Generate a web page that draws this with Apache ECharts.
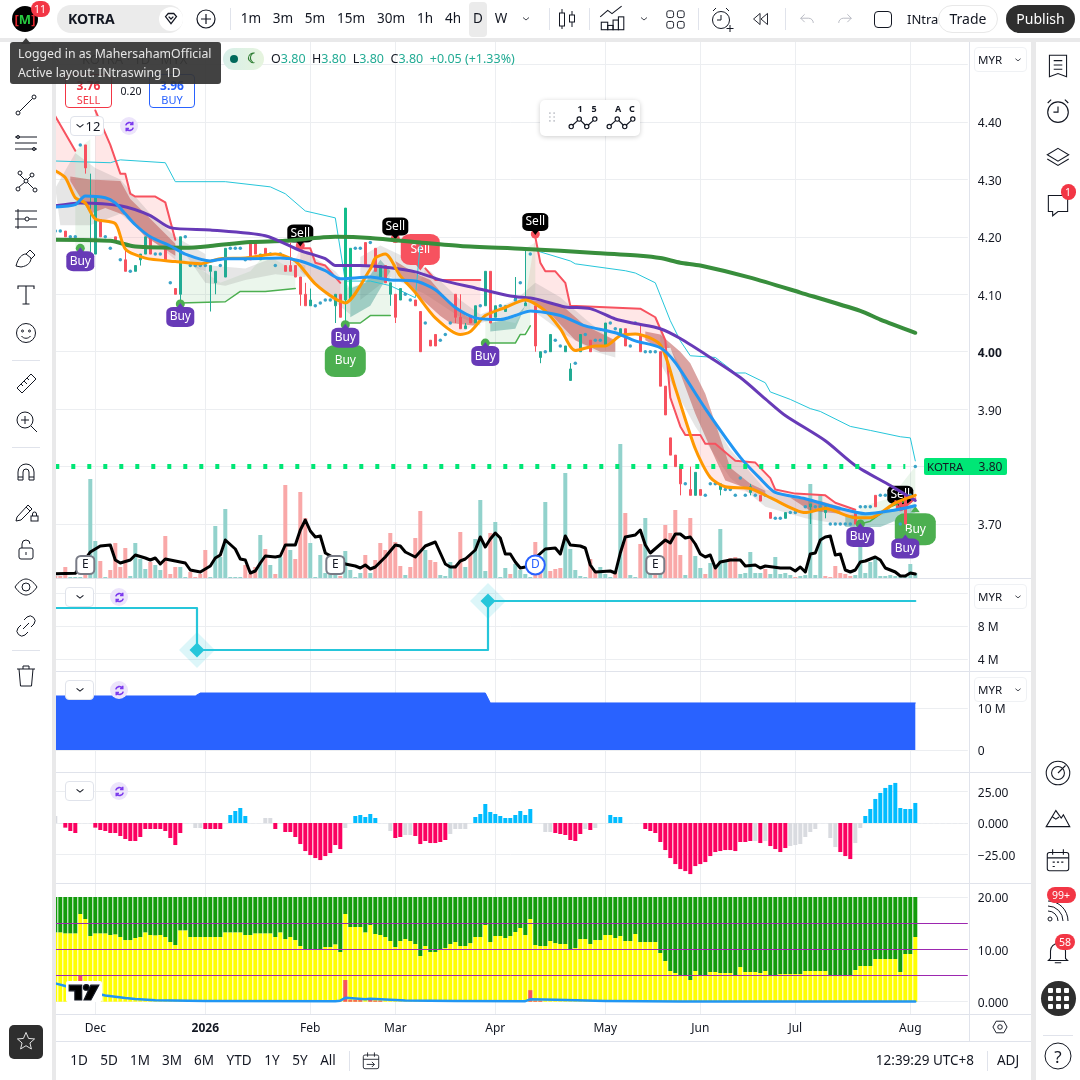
<!DOCTYPE html>
<html><head><meta charset="utf-8">
<script src="https://cdn.jsdelivr.net/npm/echarts@6/dist/echarts.min.js"></script>
<style>
html,body{margin:0;padding:0;background:#fff;width:1080px;height:1080px;overflow:hidden;font-family:"Noto Sans",sans-serif;color:#131722}
#chart{position:absolute;left:0;top:0;width:1080px;height:1080px}
#ui{position:absolute;left:0;top:0;width:1080px;height:1080px;pointer-events:none}
#ui div,#ui span{position:absolute;white-space:nowrap}
#ui svg{position:absolute;overflow:visible}
</style></head><body>
<div id="chart"></div><div id="ui"></div>
<script>
/* ---------- time axis ---------- */
const barCount = 183;
const tickIndex  = [8, 30, 51, 68, 88, 110, 129, 148, 171];
const tickLabels = ['Dec','2026','Feb','Mar','Apr','May','Jun','Jul','Aug'];

/* ---------- candles: [bar, open, close, low, high] ---------- */
const candles = [[2,4.21,4.20,4.20,4.21],[6,4.36,4.32,4.31,4.36],[7,4.16,4.17,4.16,4.31],[8,4.17,4.27,4.17,4.27],[9,4.23,4.20,4.20,4.23],[12,4.20,4.19,4.19,4.20],[14,4.16,4.14,4.14,4.18],[16,4.14,4.15,4.14,4.15],[17,4.16,4.17,4.15,4.17],[18,4.17,4.20,4.17,4.20],[19,4.20,4.17,4.17,4.20],[22,4.18,4.16,4.16,4.18],[24,4.11,4.10,4.10,4.11],[25,4.10,4.20,4.06,4.20],[31,4.14,4.15,4.07,4.15],[32,4.12,4.14,4.10,4.14],[34,4.13,4.18,4.13,4.18],[39,4.19,4.16,4.16,4.19],[40,4.19,4.17,4.17,4.19],[41,4.16,4.17,4.16,4.17],[42,4.18,4.17,4.17,4.18],[46,4.15,4.14,4.14,4.15],[47,4.15,4.14,4.14,4.19],[48,4.15,4.13,4.13,4.15],[49,4.13,4.10,4.08,4.13],[50,4.10,4.08,4.08,4.12],[51,4.08,4.09,4.08,4.11],[56,4.08,4.10,4.05,4.10],[57,4.10,4.06,4.06,4.10],[58,4.09,4.25,4.05,4.25],[59,4.09,4.18,4.09,4.18],[62,4.19,4.15,4.15,4.19],[64,4.18,4.14,4.14,4.18],[65,4.13,4.15,4.13,4.15],[66,4.15,4.12,4.12,4.15],[67,4.10,4.12,4.08,4.12],[68,4.10,4.06,4.05,4.10],[69,4.09,4.11,4.09,4.11],[72,4.09,4.08,4.08,4.09],[73,4.07,4.00,4.00,4.07],[75,4.02,4.01,4.01,4.02],[76,4.03,4.01,4.01,4.03],[80,4.10,4.06,4.05,4.10],[81,4.06,4.04,4.04,4.10],[82,4.04,4.045,4.04,4.05],[83,4.06,4.05,4.05,4.06],[84,4.05,4.08,4.05,4.08],[86,4.08,4.14,4.08,4.14],[87,4.14,4.05,4.05,4.14],[88,4.06,4.08,4.06,4.08],[90,4.07,4.08,4.07,4.08],[92,4.09,4.095,4.09,4.13],[94,4.08,4.085,4.08,4.18],[96,4.08,4.01,4.00,4.08],[97,3.99,4.00,3.98,4.00],[99,4.00,4.03,4.00,4.03],[102,4.00,4.01,4.00,4.01],[103,3.95,3.97,3.95,3.98],[105,4.00,4.03,4.00,4.03],[107,4.02,4.00,4.00,4.02],[110,4.01,4.05,4.01,4.05],[113,4.03,4.04,4.03,4.04],[114,4.04,4.01,4.01,4.04],[117,4.03,4.00,4.00,4.05],[121,4.00,3.94,3.94,4.00],[122,3.94,3.89,3.89,3.94],[123,3.85,3.82,3.82,3.85],[124,3.82,3.80,3.80,3.82],[125,3.80,3.77,3.75,3.80],[127,3.76,3.75,3.75,3.80],[128,3.75,3.79,3.75,3.79],[129,3.76,3.75,3.75,3.76],[133,3.76,3.77,3.75,3.77],[139,3.755,3.765,3.75,3.77],[141,3.75,3.74,3.74,3.75],[143,3.72,3.71,3.71,3.72],[146,3.71,3.72,3.71,3.72],[151,3.73,3.735,3.70,3.735],[154,3.72,3.73,3.71,3.73],[160,3.72,3.70,3.70,3.72],[164,3.75,3.73,3.73,3.75],[169,3.74,3.73,3.73,3.74],[170,3.75,3.70,3.70,3.75]];
const brightCandles = [58,59];

/* ---------- small dots: [bar, price] ---------- */
const dots = [[0,4.21],[1,4.21],[3,4.20],[4,4.20],[5,4.36],[10,4.20],[11,4.18],[13,4.16],[15,4.14],[20,4.17],[21,4.17],[23,4.12],[26,4.20],[27,4.15],[28,4.15],[29,4.15],[30,4.15],[33,4.15],[35,4.18],[36,4.18],[37,4.18],[38,4.16],[43,4.17],[44,4.15],[45,4.17],[52,4.08],[53,4.085],[54,4.09],[55,4.09],[60,4.18],[61,4.18],[63,4.19],[70,4.10],[71,4.09],[74,4.05],[77,4.02],[78,4.03],[79,4.05],[85,4.08],[89,4.08],[92,4.09],[93,4.12],[94,4.09],[95,4.17],[98,4.00],[100,4.02],[101,4.01],[104,3.98],[106,4.03],[108,4.02],[109,4.02],[111,4.05],[112,4.04],[115,4.01],[116,4.05],[118,4.00],[119,4.00],[120,4.00],[126,3.77],[130,3.75],[131,3.77],[132,3.77],[134,3.76],[135,3.76],[136,3.75],[137,3.78],[138,3.75],[140,3.75],[142,3.75],[144,3.71],[145,3.71],[147,3.72],[148,3.72],[150,3.73],[152,3.73],[153,3.73],[155,3.70],[156,3.70],[157,3.70],[158,3.70],[159,3.70],[161,3.73],[162,3.73],[163,3.73],[165,3.75],[166,3.75],[169,3.70],[171,3.75],[172,3.80]];

/* ---------- moving lines: [bar, price] ---------- */
const purpleLine = [[0,4.254],[5,4.259],[13,4.254],[19,4.237],[23,4.216],[31,4.212],[42,4.202],[49,4.176],[54,4.162],[56,4.15],[61,4.15],[67,4.146],[72,4.139],[77,4.125],[84,4.111],[91,4.097],[96,4.092],[102,4.078],[107,4.075],[112,4.057],[116,4.049],[121,4.04],[125,4.023],[131,3.99],[137,3.955],[142,3.918],[146,3.889],[154,3.845],[160,3.802],[167,3.767],[172,3.741]];
const greenLine = [[0,4.195],[11,4.193],[16,4.183],[26,4.181],[31,4.184],[39,4.191],[46,4.193],[56,4.2],[63,4.198],[73,4.19],[81,4.184],[94,4.179],[108,4.172],[117,4.167],[121,4.163],[125,4.155],[129,4.15],[139,4.129],[149,4.103],[161,4.071],[165,4.056],[172,4.033]];
const blueLine = [[0,4.252],[4,4.256],[6,4.271],[10,4.268],[12,4.259],[14,4.24],[16,4.221],[19,4.2],[23,4.184],[26,4.17],[31,4.158],[34,4.162],[39,4.162],[45,4.163],[49,4.158],[54,4.141],[57,4.127],[63,4.13],[67,4.125],[72,4.123],[76,4.108],[80,4.077],[84,4.059],[89,4.056],[92,4.063],[95,4.071],[101,4.063],[106,4.045],[112,4.033],[116,4.019],[121,4.007],[124,3.981],[130,3.901],[137,3.816],[141,3.779],[144,3.755],[150,3.744],[157,3.727],[162,3.718],[167,3.723],[172,3.732]];
const orangeLine = [[0,4.315],[2,4.303],[4,4.268],[6,4.259],[8,4.231],[12,4.223],[14,4.179],[18,4.163],[24,4.157],[29,4.153],[33,4.162],[38,4.163],[44,4.17],[48,4.158],[52,4.118],[56,4.092],[58,4.085],[63,4.144],[64,4.163],[66,4.17],[69,4.132],[72,4.103],[76,4.059],[81,4.03],[83,4.035],[86,4.063],[90,4.077],[94,4.09],[98,4.071],[101,4.04],[104,4.002],[108,4.01],[110,4.01],[113,4.028],[116,4.031],[121,4.012],[124,3.937],[128,3.831],[131,3.781],[134,3.765],[139,3.762],[143,3.746],[150,3.72],[154,3.727],[160,3.711],[163,3.711],[168,3.737],[172,3.75]];
const cyanLine = [[0,4.332],[11,4.329],[13,4.334],[22,4.329],[24,4.296],[34,4.296],[43,4.287],[46,4.275],[50,4.245],[56,4.233],[58,4.123],[63,4.123],[67,4.115],[72,4.094],[73,4.188],[84,4.181],[95,4.179],[103,4.158],[104,4.153],[114,4.141],[116,4.137],[120,4.12],[123,4.054],[125,4.019],[127,3.993],[132,3.99],[136,3.963],[138,3.963],[142,3.946],[143,3.93],[147,3.917],[151,3.901],[153,3.896],[159,3.87],[163,3.863],[169,3.852],[171,3.85],[172,3.81]];
const last = [[0,3.8],[170,3.8]];

/* ---------- red resistance pieces, and the edge they are shaded to ---------- */
const red1 = [[0,4.41],[4,4.35]];
const red1Low = [[4,4.27],[2,4.30],[0,4.31]];
const red2 = [[8,4.42],[9,4.40],[11,4.36],[13,4.31],[14,4.31],[15,4.275],[16,4.27],[20,4.27],[22,4.26],[24,4.195]];
const red2Low = [[24,4.155],[18,4.165],[14,4.18],[12,4.22],[8,4.23]];
const red3 = [[49,4.18],[51,4.18],[52,4.155],[54,4.15],[57,4.12]];
const red3Low = [[57,4.085],[54,4.105],[52,4.12],[48,4.16]];
const red4 = [[74,4.145],[76,4.125],[85,4.125]];
const red4Low = [[85,4.055],[81,4.03],[76,4.06],[72,4.10]];
const red5 = [[96,4.20],[97,4.155],[98,4.14],[100,4.14],[102,4.12],[103,4.08],[117,4.075],[120,4.06],[122,4.02],[123,3.92],[125,3.87],[126,3.855],[129,3.855],[130,3.84],[132,3.84],[136,3.81],[140,3.807],[143,3.78],[144,3.76],[148,3.753],[154,3.75],[156,3.737],[160,3.725]];
const red5Low = [[160,3.71],[154,3.727],[150,3.72],[143,3.746],[134,3.765],[131,3.78],[128,3.83],[124,3.937],[121,4.007],[116,4.03],[113,4.03],[110,4.01],[108,4.01],[104,4.00],[101,4.04],[98,4.07],[94,4.09]];
const red6 = [[168,3.74],[170,3.73],[172,3.745]];

/* ---------- shaded clouds ---------- */
const roseClouds = [
 [[3,4.305],[7,4.30],[13,4.297],[15,4.266],[18,4.24],[24,4.188],[24,4.167],[18,4.20],[14,4.237],[10,4.25],[7,4.24],[3,4.297]],
 [[68,4.158],[72,4.136],[75,4.125],[78,4.095],[82,4.063],[84,4.055],[84,4.045],[79,4.05],[77,4.062],[73,4.094],[69,4.13]],
 [[95,4.09],[101,4.083],[106,4.045],[112,4.02],[112,4.00],[109,4.00],[104,4.02],[99,4.066],[96,4.083]],
 [[118,4.035],[121,4.03],[125,4.00],[127,3.98],[130,3.927],[133,3.85],[135,3.798],[139,3.77],[142,3.758],[142,3.75],[140,3.757],[134,3.776],[131,3.833],[128,3.892],[125,3.962],[123,4.007],[121,4.005],[118,4.02]],
 [[147,3.746],[153,3.74],[157,3.73],[157,3.718],[151,3.723]]];
const grayClouds = [
 [[0,4.285],[4,4.346],[8,4.32],[13,4.30],[19,4.24],[24,4.20],[30,4.17],[30,4.14],[24,4.16],[13,4.24],[7,4.22],[1,4.22]],
 [[26,4.17],[31,4.15],[38,4.145],[44,4.165],[50,4.15],[50,4.13],[44,4.135],[38,4.125],[34,4.115],[30,4.12]],
 [[49,4.18],[56,4.14],[59,4.11],[59,4.065],[54,4.10],[49,4.14]],
 [[61,4.165],[65,4.185],[71,4.16],[75,4.14],[81,4.09],[85,4.065],[85,4.045],[81,4.06],[74,4.10],[67,4.13],[61,4.09]],
 [[85,4.065],[92,4.09],[96,4.12],[101,4.095],[106,4.057],[112,4.015],[112,3.99],[108,4.00],[102,4.03],[95,4.075],[90,4.06],[85,4.05]],
 [[121,4.036],[128,3.93],[135,3.83],[142,3.76],[150,3.745],[160,3.72],[160,3.695],[150,3.71],[142,3.73],[135,3.78],[128,3.87],[121,3.98]]];
const paleGreenClouds = [
 [[4,4.35],[7,4.37],[7,4.17],[4,4.17]],
 [[25,4.163],[28,4.15],[33,4.12],[39,4.14],[42,4.17],[48,4.14],[48,4.11],[42,4.105],[37,4.105],[34,4.087],[25,4.085]],
 [[58,4.11],[62,4.12],[67,4.15],[67,4.063],[63,4.063],[61,4.05],[58,4.05]],
 [[86,4.06],[92,4.05],[95,4.09],[95,4.045],[93,4.03],[92,4.015],[86,4.015]],
 [[94,4.18],[96,4.19],[96,4.09],[94,4.09]],
 [[161,3.73],[167,3.745],[172,3.80],[172,3.735],[167,3.72],[161,3.705]]];
const tealClouds = [
 [[59,4.11],[62,4.12],[65,4.16],[67,4.14],[63,4.08],[59,4.06]],
 [[87,4.05],[92,4.06],[94,4.08],[92,4.04],[87,4.035]],
 [[158,3.715],[165,3.72],[172,3.735],[172,3.72],[165,3.695],[158,3.695]]];

/* ---------- support pieces ---------- */
const support1 = [[25,4.085],[34,4.087],[37,4.105],[42,4.105],[48,4.11]];
const support2 = [[58,4.05],[61,4.05],[63,4.063],[67,4.063]];
const support3 = [[86,4.015],[92,4.015],[93,4.03],[94,4.03],[95,4.045]];
const support4 = [[161,3.70],[163,3.705],[167,3.73],[170,3.74]];

/* ---------- signals: [bar, price] ---------- */
const smallBuy = [[5,4.18],[25,4.083],[58,4.047],[86,4.015],[161,3.70],[170,3.68]];
const bigBuy = [[58,4.05],[172,3.757]];
const smallSell = [[49,4.185],[68,4.197],[96,4.205],[169,3.73]];
const bigSell = [[73,4.15]];

/* ---------- volume (relative), and the lower-close bars ---------- */
const volume = [2,2,11,1,1,1,3,99,37,17, 1,8,35,11,30,2,35,19,9,16, 13,8,42,4,11,11,1,6,1,4, 28,1,52,21,69,1,1,1,13,4, 11,43,29,13,4,21,93,28,19,86, 60,35,1,23,5,3,3,2,27,8, 1,5,23,5,18,35,28,45,36,12, 3,11,40,67,28,18,16,3,2,16, 13,46,11,23,39,78,7,45,56,1, 10,4,14,8,4,1,36,12,76,7, 9,10,105,29,8,2,1,19,7,11, 4,1,7,134,65,3,1,34,60,20, 18,15,53,45,68,23,3,60,22,10, 4,15,12,49,18,20,21,4,5,26, 5,5,9,4,21,4,5,3,1,2, 3,94,3,84,2,1,12,5,4,2, 3,58,5,16,20,2,2,3,2,1, 2,14,5];
const volumeDown = [0,1,2,6,9,11,12,13,14,19,22,23,24,27,28,29,30,38,39,40,42,44,46,48,49,50,57,62,64,65,66,67,68,69,71,72,73,75,76,80,81,83,87,91,96,97,99,100,101,107,108,112,114,117,120,122,123,124,125,127,130,132,135,136,142,148,154,155,156,157,158,159];
const blackLine = [[0,4.3],[4,4.7],[7,26],[9,32],[11,33],[12,18],[13,15],[15,18],[16,23],[18,20],[19,18],[20,20],[21,14],[22,19],[24,17],[26,15],[27,8],[29,6],[31,12],[32,20],[33,23],[34,38],[36,29],[37,19],[38,18],[39,5],[40,7],[41,15],[42,22],[44,21],[45,22],[46,33],[48,33],[49,48],[50,58],[51,47],[52,41],[53,42],[54,25],[58,14],[60,12],[61,10],[62,13],[63,9],[64,11],[66,21],[67,27],[68,33],[69,32],[70,26],[72,21],[74,32],[76,36],[77,25],[78,14],[79,11],[80,11],[81,17],[82,19],[84,28],[85,41],[86,31],[87,39],[88,45],[89,40],[90,24],[91,24],[92,16],[93,10],[94,11],[98,29],[100,30],[101,24],[102,42],[103,33],[105,32],[106,30],[107,13],[108,6],[111,7],[112,5],[113,25],[114,41],[116,43],[117,48],[118,33],[119,25],[122,38],[123,35],[124,44],[125,44],[126,40],[127,41],[128,34],[129,24],[130,21],[131,23],[132,10],[133,16],[135,18],[137,18],[138,12],[140,13],[141,10],[142,12],[145,10],[147,10],[148,7],[149,11],[150,6],[151,24],[152,25],[153,38],[154,41],[155,42],[156,23],[157,24],[158,8],[159,6],[160,8],[161,16],[162,17],[163,19],[164,21],[165,18],[166,10],[167,8],[168,6],[169,2],[170,2],[171,5],[172,4]];
const earnings = [[6,13],[56,13],[120,13]];
const dividends = [[96,13]];

/* ---------- step pane (millions) ---------- */
const stepLine = [[-1,10.18],[28.34,10.18],[28.34,5.09],[86.54,5.09],[86.54,11.03],[172,11.03]];
const stepMarks = [[28.34,5.09],[86.54,11.03]];
/* ---------- area pane (millions) ---------- */
const areaLine = [[0,12.86],[28,12.86],[29,13.57],[86,13.57],[87,11.2],[172,11.2]];

/* ---------- histogram ---------- */
const histogram = [5.6,0,-3.7,-6.4,-8,0,0,0,-3.7,-5.6, -6.4,-8,-8,-10.4,-12.8,-14.4,-14.4,-11.2,-4.8,-4.8, -4.8,-4.8,-6.4,-12,-17.6,-8,0,0,-4,-4, -4.8,-4.8,-4.8,-4.8,0,6.4,9.6,12,5.6,0, 0,0,4,4,-4.8,0,-7.2,-7.2,-11.2,-16.8, -22.4,-25.6,-28,-29.6,-26.4,-24,-17.6,-20.8,-4,0, 5.6,6.4,4.8,7.2,4,0,0,-6.4,-12,-11.2, -9.6,-9.6,-10.4,-16.8,-14.4,-16,-16,-15.2,-13.6,-8.8, -4.8,-4.8,-4.8,0,4.8,7.2,15.2,8.8,7.2,5.6, 4,4,6.4,9.6,6.4,11.2,0,0,-7.2,-7.2, -8,-8.8,-9.6,-13.6,-14.4,-8.8,-4.8,-5.6,-4,0, 0,6.4,4.8,4.8,0,0,0,0,-4.8,-6.4, -8,-15.2,-21.6,-28,-32.8,-36.8,-38.4,-40.8,-34.4,-32.8, -31.2,-26.4,-23.2,-22.4,-21.6,-21.6,-22.4,-15.2,-15.2,-14.4, -14.4,-16,-14.4,-18.4,-20.8,-23.2,-20,-18.4,-17.6,-16.8, -11.2,-7.2,-4.8,0,0,-12,-19.2,-23.2,-26.4,-28.8, -16,-4,5.6,11.2,19.2,24,28,30.4,32,12, 11.2,11.2,16];
const histogramGray = [0,28,29,42,43,58,67,70,71,79,80,81,82,98,99,106,108,140,142,147,148,149,150,151,152,155,156,160,161];

/* ---------- yellow / green oscillator ---------- */
const oscYellow = [13.25,13.25,13.06,13.06,13.06,16.75,15.8,12.55,13.06,13.06, 13.06,12.74,12.87,12.36,11.78,11.78,12.17,12.36,13.25,12.74, 12.68,12.74,12.36,11.4,10.83,13.63,13.63,12.36,12.36,12.36, 12.36,12.36,12.36,12.36,13.25,13.25,13.25,13.25,12.74,12.74, 13.06,13.06,13.06,13.06,12.36,13.25,11.97,12.36,11.78,10.64, 10,10,10,10,10.45,10.45,10.96,9.5,16.75,14.27, 14.27,14.27,13.25,14.65,12.93,12.74,12.36,11.59,10.45,11.59, 11.97,11.59,11.02,8.73,10.64,9.5,9.5,10,10.25,11.02, 11.4,10.64,10.64,11.2,12.36,12.36,14.65,11.4,12.55,12.55, 12.17,12.55,13.31,14.08,12.74,15.8,10.83,10.64,10.64,11.59, 11.2,11.02,11.02,10.06,10.25,11.97,11.97,11.02,11.78,11.78, 12.74,12.74,12.17,12.55,11.59,11.59,12.93,11.4,11.4,11.4, 11.4,9.3,7.77,5.86,5.48,4.9,4.9,4.14,5.86,5.1, 5.1,5.67,5.67,5.48,5.48,5.48,5.1,6.62,5.67,5.67, 5.67,5.48,5.86,4.9,4.9,5.29,5.29,5.29,5.29,5.29, 5.86,5.86,5.86,5.86,5.86,4.9,4.9,4.9,4.9,4.9, 6.05,6.82,6.82,6.82,8.15,8.15,8.15,8.15,8.15,5.67, 9.11,9.11,12.36];
const oscTop = 20;
const oscRed = [[5,5],[58,4.14],[59,.3],[60,.3],[61,.3],[63,.6],[64,.2],[65,.2],[95,2.2],[96,.2],[97,.2]];
const oscBlue = [[0,3.5],[2,3.0],[4,2.4],[6,2.0],[8,1.6],[10,1.2],[12,.95],[14,.7],[16,.5],[20,.3],[30,.13],[56,.1],[57,.2],[58,.76],[60,.6],[62,.45],[63,.55],[70,.25],[80,.13],[94,.1],[95,.45],[100,.35],[110,.15],[125,.05],[172,.03]];
const oscLevels = [5,10,15];

/* ---------- chart ---------- */
const categories = Array.from({length:barCount},(_,i)=>String(i));
const tickMap = {}; tickIndex.forEach((b,k)=>tickMap[b]=tickLabels[k]);
const L = 52.8, W = 915, GRID = '#eceef1';
const grids = [[42,972],[64.5,517],[378,200],[593,66],[708,42],[791.7,62.6],[897,104.7]];
const PRICE=1,VOL=2,STEP=3,AREA=4,HIST=5,OSC=6;
const xAxes = grids.map((g,i)=> i===STEP ? {gridIndex:i,type:'value',show:false,min:-0.5,max:barCount-0.5,splitLine:{show:false}} : ({gridIndex:i,type:'category',data:categories,show:i===0,boundaryGap:true,
  axisLine:{show:false},axisTick:{show:false},
  axisLabel:{show:i===0,interval:(k)=>k in tickMap,margin:9,fontSize:12,color:'#131722',fontFamily:'"Noto Sans"',
    formatter:(v)=>{const t=tickMap[v];return t==='2026'?'{b|2026}':t;},rich:{b:{fontWeight:'bold',fontSize:12,color:'#131722',fontFamily:'"Noto Sans"'}}},
  splitLine:{show:i===0,alignWithLabel:true,interval:(k)=>k in tickMap,lineStyle:{color:GRID,width:1}}}));
const rich = {b:{fontWeight:'bold',fontSize:12,color:'#131722',fontFamily:'"Noto Sans"'}};
const lab = {show:true,margin:10,fontSize:12,color:'#131722',fontFamily:'"Noto Sans"',align:'left',padding:[4,0,0,0],rich};
const sl = {show:true,lineStyle:{color:GRID,width:1}};
const yAxes = [
 {gridIndex:0,type:'value',show:false,min:0,max:1,splitLine:{show:false}},
 {gridIndex:1,type:'value',position:'right',min:3.6,max:4.5,interval:.1,axisLine:{show:false},axisTick:{show:false},splitLine:{...sl,showMinLine:false},
  axisLabel:{...lab,showMinLabel:false,formatter:v=>Math.abs(v-4)<1e-6?'{b|4.00}':v.toFixed(2)}},
 {gridIndex:2,type:'value',show:false,min:0,max:200,splitLine:{show:false}},
 {gridIndex:3,type:'value',position:'right',min:4,max:12,interval:4,axisLine:{show:false},axisTick:{show:false},splitLine:sl,axisLabel:{...lab,formatter:v=>v+' M'}},
 {gridIndex:4,type:'value',position:'right',min:0,max:10,interval:10,axisLine:{show:false},axisTick:{show:false},splitLine:sl,axisLabel:{...lab,formatter:v=>v?v+' M':'0'}},
 {gridIndex:5,type:'value',position:'right',min:-25,max:25,interval:25,axisLine:{show:false},axisTick:{show:false},splitLine:sl,axisLabel:{...lab,formatter:v=>v===0?'0.000':(v<0?'\u2212':'')+Math.abs(v).toFixed(2)}},
 {gridIndex:6,type:'value',position:'right',min:0,max:20,interval:10,axisLine:{show:false},axisTick:{show:false},splitLine:sl,axisLabel:{...lab,formatter:v=>v===0?'0.000':v.toFixed(2)}}
];
const onPane = p=>({xAxisIndex:p,yAxisIndex:p});
const line = (p,data,color,width,z,extra={})=>({type:'line',...onPane(p),data,z,symbol:'none',silent:true,animation:false,lineStyle:{color,width,cap:'round',join:'round'},...extra});
const smoothed = {smooth:.25};
const clouds = (list,fill,z)=>({type:'custom',...onPane(PRICE),z,silent:true,animation:false,clip:true,
  data:list.map(()=>[0,4]),encode:{x:0,y:1},
  renderItem:(params,api)=>({type:'polygon',shape:{points:list[params.dataIndex].map(p=>api.coord(p))},style:{fill}})});
const join = (a,b)=>a.concat(b);
function signal(data,o){
  const base={type:'scatter',...onPane(PRICE),data,z:o.z,silent:true,animation:false};
  const out=[];
  if(o.dot) out.push({...base,symbol:'circle',symbolSize:9,itemStyle:{color:o.dot,opacity:1}});
  out.push({...base,symbol:'triangle',symbolRotate:o.dy<0?180:0,symbolSize:[9,6],symbolOffset:[0,o.tipDy],itemStyle:{color:o.color,opacity:1}});
  out.push({...base,symbol:'roundRect',symbolSize:[o.w,o.h],symbolOffset:[0,o.dy],itemStyle:{color:o.color,opacity:1},
    label:{show:true,position:'inside',formatter:o.text,color:'#fff',fontSize:12,fontFamily:'"Noto Sans"'}});
  return out;
}
const candleData = candles.map(c=>brightCandles.includes(c[0])?{value:c,itemStyle:{color:'#14bd8c',borderColor:'#14bd8c'}}:c);
const series = [
 clouds([join(red1,red1Low),join(red2,red2Low),join(red3,red3Low),join(red4,red4Low),join(red5,red5Low)],'rgba(255,170,170,.28)',2),
 clouds(paleGreenClouds,'rgba(76,175,80,.11)',2),
 clouds(grayClouds,'rgba(130,130,130,.2)',3),
 clouds(roseClouds,'rgba(190,90,85,.55)',4),
 clouds(tealClouds,'rgba(38,140,130,.38)',4),
 ...signal(bigSell,{w:39,h:31,color:'#f7525f',dy:-16,tipDy:2,text:'Sell',z:4}),
 ...signal(bigBuy,{w:41,h:32,color:'#4caf50',dy:38,tipDy:18,text:'Buy',z:4}),
 ...signal(smallSell,{w:26,h:18,color:'#000',dy:-12,tipDy:-2,text:'Sell',dot:'#f7525f',z:5}),
 {type:'bar',...onPane(VOL),data:volume.map((v,i)=>({value:v,itemStyle:{color:volumeDown.includes(i)?'#f9a8a8':'#92d2cc'}})),barWidth:4,z:2,silent:true,animation:false},
 line(VOL,blackLine,'#000',3,6),
 line(PRICE,cyanLine,'#26c6da',1,6),
 line(PRICE,support1,'#4caf50',1.5,6),line(PRICE,support2,'#4caf50',1.5,6),line(PRICE,support3,'#4caf50',1.5,6),line(PRICE,support4,'#4caf50',1.5,6),
 line(PRICE,red1,'#f7525f',2,6),line(PRICE,red2,'#f7525f',2,6),line(PRICE,red3,'#f7525f',2,6),line(PRICE,red4,'#f7525f',2,6),line(PRICE,red5,'#f7525f',2,6),line(PRICE,red6,'#f7525f',2,6),
 {type:'candlestick',...onPane(PRICE),data:candleData,encode:{x:0,y:[1,2,3,4]},barWidth:3,z:7,silent:true,animation:false,
  itemStyle:{color:'#22ab94',color0:'#f7525f',borderColor:'#22ab94',borderColor0:'#f7525f',borderWidth:1}},
 {type:'scatter',...onPane(PRICE),data:dots,symbol:'circle',symbolSize:3.5,z:7,silent:true,animation:false,itemStyle:{color:'#3aa3c7',opacity:1}},
 line(PRICE,greenLine,'#388e3c',4,8,smoothed),
 line(PRICE,purpleLine,'#673ab7',3,8,smoothed),
 line(PRICE,orangeLine,'#ff9800',3,9,smoothed),
 line(PRICE,blueLine,'#2196f3',3,9,smoothed),
 ...signal(smallBuy,{w:28,h:20,color:'#673ab7',dy:13,tipDy:2,text:'Buy',dot:'#4caf50',z:10}),
 line(PRICE,last,'#00e676',5,10,{lineStyle:{color:'#00e676',width:5,type:[4,12],cap:'butt'}}),
 {type:'scatter',...onPane(VOL),data:earnings,symbol:'roundRect',symbolSize:18,z:11,silent:true,animation:false,itemStyle:{color:'#fff',borderColor:'#787b86',borderWidth:2,opacity:1},label:{show:true,position:'inside',formatter:'E',color:'#131722',fontSize:12,fontFamily:'"Noto Sans"'}},
 {type:'scatter',...onPane(VOL),data:dividends,symbol:'circle',symbolSize:19,z:11,silent:true,animation:false,itemStyle:{color:'#fff',borderColor:'#2962ff',borderWidth:2,opacity:1},label:{show:true,position:'inside',formatter:'D',color:'#2962ff',fontSize:12,fontFamily:'"Noto Sans"'}},
 /* step pane */
 line(STEP,stepLine,'#26c6da',2.2,5,{clip:false}),
 {type:'scatter',...onPane(STEP),data:stepMarks,symbol:'diamond',symbolSize:36,z:4,silent:true,animation:false,clip:false,itemStyle:{color:'rgba(38,198,218,.16)',opacity:1}},
 {type:'scatter',...onPane(STEP),data:stepMarks,symbol:'diamond',symbolSize:15,z:6,silent:true,animation:false,clip:false,itemStyle:{color:'#26c6da',opacity:1}},
 /* area pane */
 line(AREA,areaLine,'#2962ff',1,5,{clip:false,areaStyle:{color:'#2962ff',opacity:1}}),
 /* histogram pane */
 {type:'bar',...onPane(HIST),data:histogram.map((v,i)=>({value:v,itemStyle:{color:histogramGray.includes(i)?'#d9dbe0':(v>0?'#00bcff':'#fb0060')}})),barWidth:4,z:3,silent:true,animation:false,clip:false,
  markLine:{silent:true,symbol:'none',label:{show:false},animation:false,lineStyle:{color:'#e8eaee',type:'dashed',width:1},data:[{yAxis:0}],z:1}},
 /* oscillator pane */
 {type:'bar',...onPane(OSC),stack:'osc',data:oscYellow,barWidth:4,z:2,silent:true,animation:false,itemStyle:{color:'#ffff00'}},
 {type:'bar',...onPane(OSC),stack:'osc',data:oscYellow.map(v=>oscTop-v),barWidth:4,z:2,silent:true,animation:false,itemStyle:{color:'#129c0a'}},
 {type:'bar',...onPane(OSC),stack:'red',barGap:'-100%',data:oscRed,barWidth:4,z:3,silent:true,animation:false,itemStyle:{color:'#f7525f'}},
 line(OSC,oscBlue,'#2196f3',2.5,4),
 {type:'line',...onPane(OSC),data:[],z:5,silent:true,animation:false,markLine:{silent:true,symbol:'none',animation:false,label:{show:false},lineStyle:{color:'#9c27b0',width:1,type:'solid'},data:oscLevels.map(v=>({yAxis:v}))}}
];
const chart = echarts.init(document.getElementById('chart'),null,{width:1080,height:1080});
chart.setOption({animation:false,backgroundColor:'#fff',tooltip:{show:false},
  grid:grids.map(g=>({left:L,width:W,top:g[0],height:g[1],containLabel:false})),
  xAxis:xAxes,yAxis:yAxes,series});

/* ---------- surrounding interface ---------- */
const ui=document.getElementById('ui');
function box(x,y,w,h,css=''){const d=document.createElement('div');d.style.cssText=`left:${x}px;top:${y}px;width:${w}px;height:${h}px;${css}`;ui.appendChild(d);return d;}
function txt(x,y,s,css='',anchor='c'){const d=document.createElement('span');const tx=anchor==='c'?'-50%':anchor==='r'?'-100%':'0';d.style.cssText=`left:${x}px;top:${y}px;transform:translate(${tx},-50%);font-size:13px;line-height:1;${css}`;d.innerHTML=s;ui.appendChild(d);return d;}
function ic(cx,cy,body,s=28,sw=1){const n='http://www.w3.org/2000/svg';const v=document.createElementNS(n,'svg');v.setAttribute('viewBox','0 0 28 28');v.setAttribute('width',s);v.setAttribute('height',s);v.style.cssText=`left:${cx-s/2}px;top:${cy-s/2}px`;v.innerHTML=`<g fill="none" stroke="#131722" stroke-width="${sw}">${body}</g>`;ui.appendChild(v);return v;}
const badge=(x,y,s,w=16)=>{box(x-w/2,y-8,w,16,'background:#f23645;border-radius:8px;');txt(x,y,s,'color:#fff;font-size:10.5px');};
const chev='<path d="M8 11l6 5 6-5"/>';
const refresh=(x,y)=>{box(x-9,y-9,18,18,'border-radius:9px;background:#ece4fb');ic(x,y,'<path d="M7 12a7 7 0 0 1 12.5-2.5M21 16a7 7 0 0 1-12.5 2.5"/><path d="M20 5v5h-5M8 23v-5h5"/>',15,3).querySelector('g').setAttribute('stroke','#7c3aed');};
const pane=(x,y,w=29,label='')=>{box(x,y,w,20,'background:#fff;border:1px solid #e0e3eb;border-radius:4px;box-sizing:border-box');ic(x+(label?10:14.5),y+10,chev,16,1.8);if(label)txt(x+23,y+10,label,'font-size:13px');};
const myr=(y)=>{box(974,y,53,25,'background:#fff;border:1px solid #eff1f4;border-radius:4px;box-sizing:border-box');txt(978,y+12.5,'MYR','font-size:11.5px','l');ic(1018,y+12.5,chev,12,1.8);};

/* frames */
box(0,0,1080,38,'background:#fff');box(0,38,1080,4,'background:#e9e9ea');
box(0,42,52,1038,'background:#fff');box(52,42,4,1038,'background:#e9e9ea');
box(1031,42,5,1038,'background:#e9e9ea');box(1036,42,44,1038,'background:#fff');
box(56,1042,975,38,'background:#fff');
[578,671,772,883,1014,1041].forEach(y=>box(56,y,975,1,'background:#e0e3eb'));
box(969,42,1,999,'background:#e0e3eb');

/* top bar */
box(12,6,26,26,'background:#000;border-radius:13px');txt(25,19,'<b style="position:static;color:#e0262e">[</b><b style="position:static;color:#27c93f">M</b><b style="position:static;color:#e0262e">]</b>','font-size:13px');
badge(40,9,'11',19);
box(57,5,126,28,'background:#ebebeb;border-radius:14px');txt(68,19,'KOTRA','font-weight:bold;font-size:14px','l');
box(159,7,24,24,'background:#fff;border-radius:12px');ic(171,19,'<path d="M7 11l3.5-4h7L21 11l-7 9z"/><path d="M11 11l3 3 3-3"/>',22,1.6);
ic(206,19,'<circle cx="14" cy="14" r="9"/><path d="M14 9v10M9 14h10"/>',28,1.2);
box(230,8,1,22,'background:#e0e3eb');
[['1m',251],['3m',283],['5m',315],['15m',351],['30m',391],['1h',425],['4h',453],['W',501]].forEach(a=>txt(a[1],19,a[0],'font-size:13.5px;color:#131722'));
box(469,2,18,35,'background:#ebebeb;border-radius:4px');txt(478,19,'D','font-size:13.5px');
ic(526,19,chev,14,1.6);
[549,589,698,785].forEach(x=>box(x,8,1,22,'background:#e0e3eb'));
ic(567,19,'<path d="M9 4v20M19 6v16"/><rect x="6.5" y="8" width="5" height="13" fill="#fff"/><rect x="16.5" y="10" width="5" height="7" fill="#fff"/>',28);
ic(612,19,'<rect x="4" y="17" width="6" height="7"/><rect x="10" y="20" width="5" height="4"/><rect x="15" y="15" width="5" height="9"/><rect x="20" y="12" width="5" height="12"/><path d="M3 12l7-6 4 3 9-7"/>',30);
ic(644,19,chev,14,1.6);
ic(675,19,'<rect x="5" y="5" width="7" height="7" rx="2"/><rect x="16" y="5" width="7" height="7" rx="2"/><rect x="5" y="16" width="7" height="7" rx="2"/><rect x="16" y="16" width="7" height="7" rx="2"/>',27);
ic(722,19,'<circle cx="13" cy="15" r="8.5"/><path d="M13 10v5h-4M5 6l3-3M21 6l-3-3M22 20v7M18.5 23.5h7"/>',28);
ic(761,19,'<path d="M13 8l-7 6 7 6zM21 8l-7 6 7 6z"/>',26);
ic(807,19,'<path d="M11 8l-5 5 5 5M6 13h10a6 6 0 0 1 6 6" stroke="#a8abb5"/>',22);
ic(845,19,'<path d="M17 8l5 5-5 5M22 13H12a6 6 0 0 0-6 6" stroke="#a8abb5"/>',22);
box(874,11,18,17,'border:1.3px solid #131722;border-radius:4px;box-sizing:border-box');
txt(907,19,'INtra','font-size:13px','l');
box(938,5,60,28,'background:#fff;border:1px solid #e8e8e8;border-radius:14px;box-sizing:border-box');txt(968,19,'Trade','font-size:14px');
box(1006,5,69,28,'background:#2e2e2e;border-radius:14px');txt(1040.5,19,'Publish','font-size:14px;color:#fff');

/* legend */
txt(82,59,'KOTRA · 1D · MYX','font-size:13px;color:#555','l');
box(223,48,41,22,'background:linear-gradient(90deg,#d8efe9,#e6f4de);border-radius:11px');
box(230,55,8,8,'background:#00695c;border-radius:4px');txt(253,58,'☾','font-size:14px;color:#2e7d32;font-weight:bold');
txt(271,59,'O<span style="position:static;color:#22ab94">3.80</span>&nbsp;&nbsp;H<span style="position:static;color:#22ab94">3.80</span>&nbsp;&nbsp;L<span style="position:static;color:#22ab94">3.80</span>&nbsp;&nbsp;C<span style="position:static;color:#22ab94">3.80</span>&nbsp;&nbsp;<span style="position:static;color:#22ab94">+0.05 (+1.33%)</span>','font-size:12.5px','l');
box(65,74,47,34,'background:#fff;border:1px solid #f23645;border-radius:4px;box-sizing:border-box');
txt(88.5,86,'3.76','color:#f23645;font-size:12px;font-weight:bold');txt(88.5,99,'SELL','color:#f23645;font-size:11px');
txt(131,91,'0.20','font-size:10.5px');
box(149,74,46,34,'background:#fff;border:1px solid #2962ff;border-radius:4px;box-sizing:border-box');
txt(172,86,'3.96','color:#2962ff;font-size:12px;font-weight:bold');txt(172,99,'BUY','color:#2962ff;font-size:11px');
/* tooltip */
box(21,38,10,6,'background:#3c3c3c;clip-path:polygon(50% 0,100% 100%,0 100%)');
box(10,42,211,42,'background:rgba(52,52,52,.93);border-radius:3px');
txt(18,54,'Logged in as MahersahamOfficial','color:#e6e6e6;font-size:12.3px','l');
txt(18,73,'Active layout: INtraswing 1D','color:#e6e6e6;font-size:12.3px','l');

/* pane controls */
pane(70,116,34,'12');refresh(129,126);
pane(65,587);refresh(119,597);pane(65,680);refresh(119,690);pane(65,781);refresh(119,791);
myr(47);myr(584);box(974,700,40,4,'background:#fff');myr(677);

/* price tag */
box(924,458,50,17,'background:#00e676;border-radius:2px 0 0 2px');txt(927,466.5,'KOTRA','font-size:11.5px','l');
box(974,458,33,17,'background:#00e676;border-radius:0 2px 2px 0');txt(990.5,466.5,'3.80','font-size:12px');

/* floating drawing bar */
box(540,100,100,36,'background:#fff;border-radius:5px;box-shadow:0 1px 5px rgba(0,0,0,.2)');
ic(552,118,'<g stroke="#c9cbd1" stroke-width="2.4" stroke-dasharray="2.4 3"><path d="M11 6v16M17 6v16"/></g>',20);
const wave='<circle cx="3" cy="22" r="2"/><circle cx="10.5" cy="15" r="2"/><circle cx="17.5" cy="22" r="2"/><circle cx="25" cy="15" r="2"/><path d="M4.5 20.5l4.5-4M12 16.5l4 4M19 20.5l4.5-4"/>';
ic(583,118,wave,30,1.1);ic(621,118,wave,30,1.1);
txt(580,108,'1','font-size:9px;font-weight:bold');txt(594,108,'5','font-size:9px;font-weight:bold');txt(618,108,'A','font-size:9px;font-weight:bold');txt(632,108,'C','font-size:9px;font-weight:bold');

/* left tools */
ic(26,105,'<circle cx="6" cy="22" r="2"/><circle cx="22" cy="6" r="2"/><path d="M7.5 20.5L20.5 7.5"/>');
ic(26,143,'<path d="M3 8h22M3 14h22M3 20h22"/><circle cx="6" cy="8" r="1.5"/><circle cx="22" cy="20" r="1.5"/>');
ic(26,181,'<circle cx="6" cy="22" r="2"/><circle cx="8" cy="6" r="2"/><circle cx="20" cy="8" r="2"/><circle cx="23" cy="23" r="2"/><circle cx="14" cy="14" r="2"/><path d="M7 20l6-5M8 8l5 5M15 13l4-4M15.5 15.5l6 6"/>');
ic(26,219,'<path d="M3 6h22M3 14h10M17 14h8M3 22h22"/><circle cx="15" cy="14" r="2"/><path d="M6 4v20"/>');
ic(26,258,'<path d="M4 22c2-8 6-12 10-12l5 4c0 4-3 8-10 9zM14 10l4-4 5 5-4 4"/>');
ic(26,295,'<path d="M6 8V5h16v3M14 5v18M10.5 23h7"/>',28,1.1);
ic(26,333,'<circle cx="14" cy="14" r="9.5"/><circle cx="10.5" cy="12" r="1"/><circle cx="17.5" cy="12" r="1"/><path d="M9.5 17c2 3 7 3 9 0"/>');
box(12,360,28,1,'background:#e0e3eb');
ic(26,383,'<path d="M5 19L19 5l5 5-14 14zM9 15l2 2M12 12l3 3M15 9l2 2"/>');
ic(26,421,'<circle cx="13" cy="13" r="8"/><path d="M19 19l6 6M13 9v8M9 13h8"/>');
box(12,447,28,1,'background:#e0e3eb');
ic(26,472,'<path d="M6 14a8 8 0 0 1 16 0v8h-5v-8a3 3 0 0 0-6 0v8H6zM6 19h5M17 19h5"/>');
ic(26,510,'<path d="M5 21l11-12 4 4-11 11-5 1zM14 11l4 4"/><rect x="19" y="20" width="7" height="5"/><path d="M20.5 20v-2a2 2 0 0 1 4 0v2"/>');
ic(26,549,'<rect x="7" y="13" width="14" height="11" rx="2"/><path d="M10 13V9a4 4 0 0 1 8 0M14 17v3"/>');
ic(26,587,'<path d="M3 14c4-6 8-8 11-8s7 2 11 8c-4 6-8 8-11 8s-7-2-11-8z"/><circle cx="14" cy="14" r="4"/>');
ic(26,626,'<path d="M12 8l3-3a5 5 0 0 1 7 7l-3 3M16 20l-3 3a5 5 0 0 1-7-7l3-3M11 17l6-6"/>');
box(12,650,28,1,'background:#e0e3eb');
ic(26,676,'<path d="M5 7h18M11 7V4h6v3M7 7l1.5 17h11L21 7"/>');
box(9,1025,34,34,'background:#2e2e2e;border-radius:5px');
ic(26,1041,'<path d="M14 4l3 7 7 .6-5.4 4.7 1.7 7L14 19.5 7.7 23.3l1.7-7L4 11.6l7-.6z" stroke="#fff"/>',24).querySelector('g').setAttribute('stroke','#fff');

/* right tools */
ic(1058,66,'<path d="M6 4h16v20l-8-3-8 3zM10 9h8M10 13h8M10 17h8"/>',30);
ic(1058,111,'<circle cx="14" cy="15" r="9"/><path d="M14 10v5h-4M5 7l3-3M23 7l-3-3"/>',32);
ic(1058,158,'<path d="M14 5l10 6-10 6-10-6zM4 15l10 6 10-6"/>',30);
ic(1058,204,'<path d="M5 6h18v15h-9l-5 4v-4H5z"/>',30);badge(1068,192,'1',15);
ic(1058,773,'<circle cx="14" cy="14" r="11"/><circle cx="14" cy="14" r="6"/><path d="M14 14l7-7"/>',30);
ic(1058,817,'<path d="M3 23l9-15 5 7 2-3 6 11zM9 14l3 2 3-2"/>',30);
ic(1058,860,'<rect x="4" y="7" width="20" height="17" rx="2"/><path d="M4 12h20M9 4v5M19 4v5M9 16h2M13 16h2M17 16h2M9 20h2"/>',30);
ic(1058,911,'<circle cx="6" cy="22" r="2"/><path d="M4 14a10 10 0 0 1 10 10M4 9a15 15 0 0 1 15 15M4 4a20 20 0 0 1 20 20"/>');badge(1061,895,'99+',29);
ic(1058,952,'<path d="M7 20V13a7 7 0 0 1 14 0v7l2 2H5zM11 24h6"/>',30);badge(1065,942,'58',20);
box(1041,981,35,35,'background:#2e2e2e;border-radius:18px');
[-8,0,8].forEach(dy=>[-8,0,8].forEach(dx=>box(1058.5+dx-2.5,998.5+dy-2.5,5,5,'background:#fff;border-radius:1px')));
box(1043,1035,30,1,'background:#e0e3eb');
ic(1058,1056,'<circle cx="14" cy="14" r="13"/>',28);txt(1058,1056,'?','font-size:17px');

/* bottom bar */
[['1D',79],['5D',109],['1M',140],['3M',172],['6M',204],['YTD',239],['1Y',272],['5Y',300],['All',328]].forEach(a=>txt(a[1],1061,a[0],'font-size:13.5px'));
box(349,1051,1,20,'background:#e0e3eb');
ic(371,1061,'<rect x="5" y="7" width="18" height="16" rx="2"/><path d="M5 12h18M10 4v5M18 4v5M9 18h9M15 15l3 3-3 3"/>',24);
txt(974,1061,'12:39:29 UTC+8','font-size:13.5px','r');
box(987,1051,1,20,'background:#e0e3eb');txt(1008,1061,'ADJ','font-size:13.5px');
ic(1000,1027,'<path d="M8 5h12l5 9-5 9H8l-5-9z"/><circle cx="14" cy="14" r="3.5"/>',18,1.5);

/* watermark */
box(66,981,36,21,'background:#fff;border-radius:2px');
const tv=ic(84,992,'',32);tv.querySelector('g').innerHTML='<path d="M1 8h11v13H6V13H1z" fill="#000"/><circle cx="16" cy="10" r="2.5" fill="#000"/><path d="M20 8h7l-7 13h-6z" fill="#000"/>';
</script>
</body></html>
